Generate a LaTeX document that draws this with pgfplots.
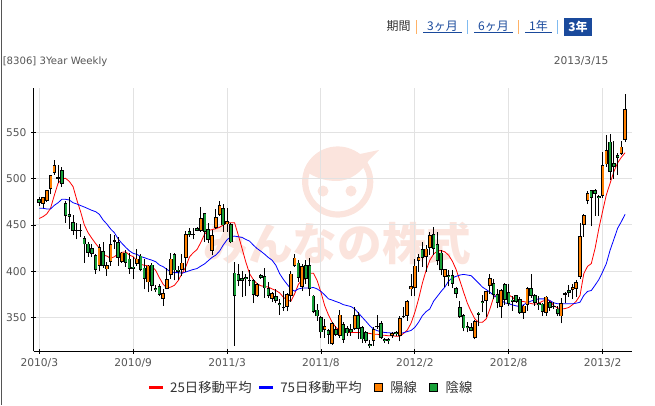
\documentclass[border=0pt]{standalone}
\usepackage{fontspec}
\usepackage{pgfplots}
\usepackage{pgfplotstable}
\pgfplotsset{compat=1.18}
\setmainfont{DejaVu Sans}
\newfontfamily\cjk{Noto Sans CJK JP}
\definecolor{wm}{HTML}{FBE4DD}
\definecolor{cup}{HTML}{FF8000}
\definecolor{cdn}{HTML}{18A038}
\definecolor{txt}{HTML}{555555}
\definecolor{linkb}{HTML}{1A4A9C}
\definecolor{gridc}{HTML}{E2E2E2}
\definecolor{sepo}{HTML}{FFB266}
\definecolor{sepb}{HTML}{80BBF0}
\definecolor{lred}{HTML}{FF0000}
\definecolor{lblue}{HTML}{0000FF}
\pgfplotstableread{
i lo bot top hi
1 468 473 479.9 480
2 474.8 476.3 487.4 487.4
3 483 488.8 504 504
4 504 506.5 514.4 520
16 400 406 426 430
18 395 402 406.5 410.4
19 406.2 410.1 429 439.9
22 409 410.1 420.3 421
26 406.2 408 413.8 424.6
29 377.5 388 406.2 407.2
33 363 370.3 376.8 381.2
34 380.4 381.2 392 404
35 392 395.7 413.8 420.3
38 394.6 401.8 409.4 419.2
39 399.3 414.5 439.9 443.8
43 442.8 443.8 457.2 469.2
46 417.4 421.7 439.5 444.6
47 445.3 447.1 458.3 467
48 459.8 460.9 471.7 476
50 442.8 450.7 454 468
58 372.8 373.2 386.6 387.3
62 366.7 370.3 376.8 377.5
66 356.9 361.2 375.7 376.4
67 366.7 373.2 397.5 400.4
68 404.7 405.4 414.9 419.2
70 378.6 383 405.8 408.3
76 328.6 336.6 341.3 348.6
78 321 321.4 344.2 344.9
80 328.6 330.4 353.3 358.7
84 336.6 337.7 352.9 362
89 319.6 324.6 337.7 339.5
94 328.6 330.1 333 334.1
96 324.3 330.1 349.6 352.2
98 346.7 351.8 367.8 369.2
99 373.2 380.4 384.1 397.1
100 373.9 381.9 406.2 413.8
101 399.3 411.6 415.6 419.2
103 399.3 415.6 424.6 428.3
104 417.4 425.4 438.8 442.8
108 383 393.8 402.2 402.9
116 326.5 328.6 346.4 347.8
119 351.1 367.8 378.3 379.3
120 375.7 384.4 393.1 397.5
123 349.6 361.2 380 381.2
129 348.6 354.7 363 363.8
130 357.6 363.8 382.2 383
135 352.2 355.4 372.8 373.9
139 343.8 351.4 365.9 371.4
142 369.9 379.7 382.6 385.9
143 372.8 380.8 388 390.2
144 392 393.8 438 451.8
145 437.3 450.4 460.7 461.6
146 472.5 476.4 484.3 486.6
150 479 481.8 514.3 528.6
151 513 515.4 530.4 546.8
155 525.4 526.4 534.6 540.4
156 539.3 541.8 575.4 591.4
}\upT
\pgfplotstableread{
i lo bot top hi
0 470.5 474.1 477.7 479.9
5 495 500 501.4 514.7
6 491.4 494 509 513
7 452.5 460 473.7 475.5
8 446 459 462 480
9 439 444 453 461
10 434.5 444 445 452
11 437.4 444 445 451
12 409 429 436 438
13 416 420 430 432
14 416 418.7 425 430
15 397 401.8 417.6 419
17 404 405.4 421.7 431.9
20 424.6 431.9 433.3 439.1
21 406.2 414.5 431.9 437.3
23 404.7 409 420.3 422.8
24 397.5 402.9 413.8 420.3
25 392 402.5 405.1 415.6
27 400 401.1 417 419.2
28 380.4 392 404 413.8
30 378.6 384 407.2 409
31 377.5 380 382.2 385.5
32 373.2 374.6 384 386.6
36 390.2 401 418.5 420.3
37 390.2 399.6 401.8 405.4
40 437.3 439.1 443.5 446.4
41 434.5 438.8 440.3 446.4
42 443.1 443.8 446.7 447.5
44 431.9 442.8 462.7 463.4
45 430.9 433.8 445.3 451.8
49 442.8 449.6 468.1 472.8
51 430.1 431.2 450.7 451.8
52 319.6 373.2 398.6 410.1
53 383.7 389.5 396.7 407.6
54 372.1 389.5 393.1 400.4
55 373.9 391.3 393.8 397.5
56 383.7 389.5 391 401.8
57 365.6 374.3 391 392
59 392 393.1 396 396.7
60 371.4 381.5 395.3 404
61 371.4 373.9 382.2 388.4
63 366 368.5 373.6 381.2
64 353.3 363.4 366 370.3
65 357.6 360.5 362 379.3
69 388.4 392.8 409.4 412
71 386.6 391.7 406.5 412
72 373.9 381.2 406.5 414.9
73 354.7 355.8 373.9 374.6
74 346.7 351.4 358.7 364.9
75 327.9 334.1 350.4 352.2
77 321.4 331.2 336.6 337.7
79 330.4 331.5 338 341.3
81 323.2 326.1 343.1 344.9
82 330.4 333 338.8 341.3
83 330.4 334.1 337.7 343.1
85 326.8 337.7 352.9 355.8
86 322.5 326.5 339.5 340.6
87 323.2 324.6 334.4 335.1
88 317 319.3 321.4 325.8
90 337.7 339.5 340.9 352.9
91 326.8 327.9 343.8 346
92 323.2 324.3 326.8 327.9
93 321.4 324.3 326.8 328.6
95 330.4 332.2 334.1 335.1
97 349.6 350.4 351.8 362
102 404.7 414.5 423.6 431.2
105 417.4 424.6 440.2 447.5
106 406.5 411.2 429 442
107 395.7 401.1 420.3 422.8
109 383.7 393.8 396.4 401.8
110 381.9 386.6 396.4 401.1
111 371 375.4 381.5 383
112 349.6 350.4 361.6 368.5
113 335.1 338.4 352.9 354
114 334.1 338.4 340.9 345
115 335.1 335.9 339.9 343.8
117 340.6 352.9 355.4 356.5
118 355.8 366 368.1 374.6
121 369.9 375 387.7 391.3
122 360.1 365.6 375.7 381.2
124 364.1 369.2 385.9 387.3
125 363 364.9 377.5 386.6
126 357.6 367 369.6 373.9
127 366 366.7 374.3 375
128 354 354.7 370.3 372.1
131 371.4 373.9 382.2 397.5
132 363 365.9 374.6 375.7
133 358.7 363.4 365.9 373.9
134 351.8 355.8 365.2 365.9
136 357.6 360.9 366.7 368.5
137 359.4 361.2 363 367.4
138 352.2 353.6 359.8 362.3
140 365.6 374.3 376.1 377.5
141 372.1 376.4 379.7 384.8
147 448.6 479 487.5 487.5
148 460 483.6 487.5 488.6
149 460 479 481.4 482.5
152 498.6 507.5 540 547.9
153 499.6 512.9 516.4 540.4
154 504 522.5 525 527.9
}\dnT
\pgfplotstableread{
i r b
0 457 468
1 459 468
2 462 467.3
3 468 467.3
4 482 471.2
5 495 474
6 499.6 477.7
7 500.4 477.7
8 497 477
9 491.4 474
10 477 472.7
11 464.4 471
12 450 469.4
13 441.7 467.6
14 435.6 465.8
15 430 464.4
16 425 461.5
17 417.6 455.4
18 416.5 451
19 414 445.7
20 415.8 441.7
21 418.7 435
22 420.5 430.2
23 421 426
24 417.6 422
25 415.8 419.4
26 411.5 418.3
27 407.6 416
28 406.5 414.7
29 406 413.3
30 405.4 412
31 401 410.4
32 393 406.8
33 386 405
34 382 402
35 383 399.6
36 385 398.6
37 390 398.6
38 397.5 398
39 404.7 399.3
40 415.6 400.7
41 420 402
42 423.5 403
43 431 405.6
44 440 408
45 444 411.5
46 445 415
47 446 417.5
48 447.5 421.8
49 450 428.5
50 452 434
51 452.5 437.5
52 452.5 438
53 439 437.3
54 424.6 436.6
55 410 434.4
56 397.5 432.6
57 391 428.3
58 386.6 424.6
59 384.4 421.7
60 383.7 418.5
61 383 414.9
62 381 412
63 379.3 406.5
64 376.8 397.5
65 372 391.3
66 369 386
67 367.8 381
68 375.7 378.6
69 386 381
70 391 381.9
71 392 382
72 398 382
73 398 382.6
74 390 381
75 377.5 378.3
76 363 374.6
77 353 370.3
78 345 369
79 339.5 367.4
80 336 366
81 335 364
82 334 363
83 334 362
84 334 359.4
85 334 355
86 333.7 350.4
87 333.4 346
88 333 341.3
89 332.2 337.7
90 332.2 336
91 331 334.8
92 331 334
93 330.4 333.7
94 330.4 333.4
95 330 333
96 330 333
97 333 333.7
98 336.6 335
99 344 336.2
100 355.5 339.5
101 370 345
102 387 352
103 401 356.5
104 412 359.4
105 418.5 367.8
106 422 373
107 422.5 378.3
108 421 383
109 417.4 389.5
110 411 393
111 402 394.6
112 390 396
113 377.5 396.7
114 365.6 396
115 356.5 395.3
116 348.6 391.3
117 345 387.3
118 345 383
119 348.6 380.4
120 359.4 377.5
121 372 374
122 375 371.4
123 375.7 368.5
124 375.7 366
125 374.6 365
126 372 363.8
127 368.3 362.7
128 367.8 362
129 367.4 364
130 366.3 366.3
131 365.2 368
132 364.5 369.2
133 365.6 370.3
134 367.8 370.3
135 369 370.3
136 368.3 368.4
137 362.9 366
138 360.5 365
139 359.4 365
140 359.8 365
141 361 365
142 364 365
143 367.8 365.6
144 374 366.7
145 397.5 374
146 405.4 378.3
147 408.3 379.3
148 424.6 385
149 446 391
150 464.6 399.3
151 482.5 408.3
152 495 422.8
153 507.5 434.4
154 517 446.4
155 523 453.6
156 528 461.6
}\maT
\pgfplotsset{
  wick/.style={draw=none,mark=none,forget plot,
    error bars/.cd,y dir=plus,y explicit,error mark=none,
    error bar style={draw=black,solid,line width=0.75pt}},
  body/.style={draw=none,mark=none,forget plot,
    error bars/.cd,y dir=plus,y explicit,error mark=none,
    error bar style={draw=black,solid,line width=2.7pt}},
  inner/.style={draw=none,mark=none,forget plot,
    error bars/.cd,y dir=plus,y explicit,error mark=none,
    error bar style={draw=#1,solid,line width=1.5pt}},
}
\begin{document}
\begin{tikzpicture}[x=0.75pt,y=0.75pt]
\useasboundingbox (0,0) rectangle (655,405);
\begin{scope}[x=0.75pt,y=-0.75pt,yshift=303.75pt]
% background line
\draw[color=txt,line width=1.1pt] (1.5,0)--(1.5,405);
% watermark
\fill[wm,even odd rule] (337.7,182) circle (35.6) (337.7,182) circle (29.4);
\fill[wm] (304,170) .. controls (315,178) and (325,181) .. (337,181)
  .. controls (350,181) and (362,172) .. (369,160) -- (379,150) -- (360,154)
  .. controls (348,145) and (316,142) .. (304,170) -- cycle;
\fill[wm] (323,191) circle (5.5) (351,191) circle (5.5);
\node[text=wm,font=\cjk\bfseries\fontsize{33.5pt}{34pt}\selectfont,anchor=center,inner sep=0pt] at (337.5,243) {みんなの株式};
% header
\node[font=\cjk\fontsize{9pt}{10pt}\selectfont,text=black!80,anchor=center,inner sep=0pt] at (398.5,26.5) {期間};
\foreach \x/\c in {416.7/sepo,467.7/sepb,518.7/sepo,557.7/sepb}
  \draw[\c,line width=1.1pt] (\x,20)--(\x,33.5);
\foreach \cx/\w/\t in {442.5/39/3ヶ月,493.5/39/6ヶ月,538.5/27/1年}{
  \node[font=\cjk\fontsize{9pt}{10pt}\selectfont,text=linkb,anchor=center,inner sep=0pt] at (\cx,26) {\t};
  \draw[linkb,line width=0.6pt] (\cx-\w/2,32.8)--(\cx+\w/2,32.8);
}
\fill[linkb] (564,18) rectangle (592,35.7);
\node[font=\cjk\bfseries\fontsize{9pt}{10pt}\selectfont,text=white,anchor=center,inner sep=0pt] at (578,26.7) {3年};
\node[font=\fontsize{7.6pt}{9pt}\selectfont,text=txt,anchor=west,inner sep=0pt] at (2.5,61.5) {[8306] 3Year Weekly};
\node[font=\fontsize{8pt}{9pt}\selectfont,text=txt,anchor=east,inner sep=0pt] at (608.7,61.5) {2013/3/15};
\end{scope}
\begin{axis}[
  at={(25.125pt,40.275pt)},anchor=south west,scale only axis,
  width=448.65pt,height=197.25pt,
  xmin=-1.54,xmax=157.76,ymin=313.7,ymax=597.5,
  axis x line*=bottom,axis y line*=left,
  axis line style={black,line width=0.85pt,-},
  xtick={0,25,50,75,100,125,150},
  xticklabels={2010/3,2010/9,2011/3,2011/8,2012/2,2012/8,2013/2},
  ytick={350,400,450,500,550},
  grid=major,grid style={gridc,line width=0.75pt},
  tick align=center,major tick length=3.6pt,
  tick style={black,line width=0.6pt},
  tick label style={font=\fontsize{8pt}{9pt}\selectfont,text=txt},
  /pgf/number format/assume math mode=true,
  legend columns=4,
  legend style={draw=none,fill=none,at={(0.466,-0.1376)},anchor=center,
    font=\cjk\fontsize{10pt}{11pt}\selectfont,text=black!80,
    /tikz/every even column/.append style={column sep=4pt},
    /tikz/every odd column/.append style={column sep=4pt}},
  clip=false,
]
\addplot[red,line width=0.6pt,forget plot] table[x=i,y=r] {\maT};
\addplot[blue,line width=0.6pt,forget plot] table[x=i,y=b] {\maT};
\addlegendimage{legend image code/.code={\path[fill=lred,draw=lred,line width=0pt] (0pt,-0.55pt) rectangle (9.5pt,0.55pt);}}
\addlegendentry{25日移動平均}
\addlegendimage{legend image code/.code={\path[fill=lblue,draw=lblue,line width=0pt] (0pt,-0.55pt) rectangle (9.5pt,0.55pt);}}
\addlegendentry{75日移動平均}
\addlegendimage{legend image code/.code={\path (0pt,0pt); \draw[black,fill=cup,line width=0.6pt] (3pt,-3pt) rectangle (9pt,3pt);}}
\addlegendentry{陽線}
\addlegendimage{legend image code/.code={\path (0pt,0pt); \draw[black,fill=cdn,line width=0.6pt] (3pt,-3pt) rectangle (9pt,3pt);}}
\addlegendentry{陰線}
% wicks
\addplot[wick] table[x=i,y=lo,y error plus expr=\thisrow{hi}-\thisrow{lo},y error minus expr=0] {\upT};
\addplot[wick] table[x=i,y=lo,y error plus expr=\thisrow{hi}-\thisrow{lo},y error minus expr=0] {\dnT};
% bodies
\addplot[body] table[x=i,y=bot,y error plus expr=\thisrow{top}-\thisrow{bot},y error minus expr=0] {\upT};
\addplot[body] table[x=i,y=bot,y error plus expr=\thisrow{top}-\thisrow{bot},y error minus expr=0] {\dnT};
\addplot[inner=cup] table[x=i,y expr=\thisrow{bot}+0.9,y error plus expr={max(0,\thisrow{top}-\thisrow{bot}-1.8)},y error minus expr=0] {\upT};
\addplot[inner=cdn] table[x=i,y expr=\thisrow{bot}+0.9,y error plus expr={max(0,\thisrow{top}-\thisrow{bot}-1.8)},y error minus expr=0] {\dnT};
\end{axis}
\end{tikzpicture}
\end{document}
